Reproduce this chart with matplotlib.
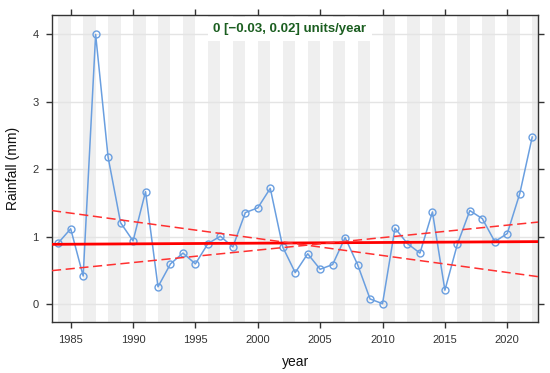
import numpy as np
import matplotlib.pyplot as plt

plt.rcParams['font.family'] = ['Liberation Sans', 'DejaVu Sans']

years = np.arange(1984, 2023)
rainfall = [0.91, 1.12, 0.42, 4.00, 2.18, 1.21, 0.94, 1.67, 0.26, 0.60,
            0.76, 0.60, 0.90, 1.01, 0.85, 1.36, 1.43, 1.72, 0.85, 0.47,
            0.75, 0.52, 0.59, 0.99, 0.59, 0.08, 0.01, 1.13, 0.90, 0.76,
            1.37, 0.21, 0.89, 1.39, 1.27, 0.93, 1.05, 1.64, 2.48]

# trend line and its confidence bounds, read at the plot edges
trend_x = [1983.5, 2022.5]
trend_mid = [0.89, 0.93]
trend_upper = [1.39, 0.41]
trend_lower = [0.50, 1.22]

label = "0 [\u22120.03, 0.02] units/year"

fig, ax = plt.subplots(figsize=(5.5, 3.73), dpi=100)
fig.subplots_adjust(left=0.0945, right=0.979, top=0.960, bottom=0.137)

# alternating grey year bands
for y0 in range(1984, 2024, 2):
    ax.axvspan(y0, y0 + 1, color='#efefef', lw=0, zorder=0)

for yv in [0, 1, 2, 3, 4]:
    ax.axhline(yv, color='#e4e4e4', lw=1, zorder=0.5)

ax.plot(years, rainfall, color='#6a9fe0', lw=1.1, marker='o', ms=5,
        mfc='none', mec='#6a9fe0', mew=1, zorder=3)

ax.plot(trend_x, trend_mid, color='#ff0000', lw=2, zorder=4)
ax.plot(trend_x, trend_upper, color='#ff3030', lw=1.1, ls=(0, (6, 3)), zorder=4)
ax.plot(trend_x, trend_lower, color='#ff3030', lw=1.1, ls=(0, (6, 3)), zorder=4)

ax.text(0.489, 0.954, label, transform=ax.transAxes, ha='center', va='center',
        fontsize=9.5, fontweight='bold', color='#1b5e20', zorder=5,
        bbox=dict(facecolor='white', edgecolor='none', pad=4))

ax.set_xlim(1983.5, 2022.5)
ax.set_ylim(-0.26, 4.29)
ax.set_xticks([1985, 1990, 1995, 2000, 2005, 2010, 2015, 2020])
ax.set_yticks([0, 1, 2, 3, 4])

ax.tick_params(axis='both', direction='out', length=4.5, width=1, color='#333333',
               labelsize=8, labelcolor='#333333', pad=5,
               top=True, right=True, labeltop=False, labelright=False)

for s in ax.spines.values():
    s.set_color('#333333')
    s.set_linewidth(1)

ax.set_xlabel('year', fontsize=10, color='#111111', labelpad=7)
ax.set_ylabel('Rainfall (mm)', fontsize=10, color='#111111', labelpad=9)

fig.savefig('out.png')
